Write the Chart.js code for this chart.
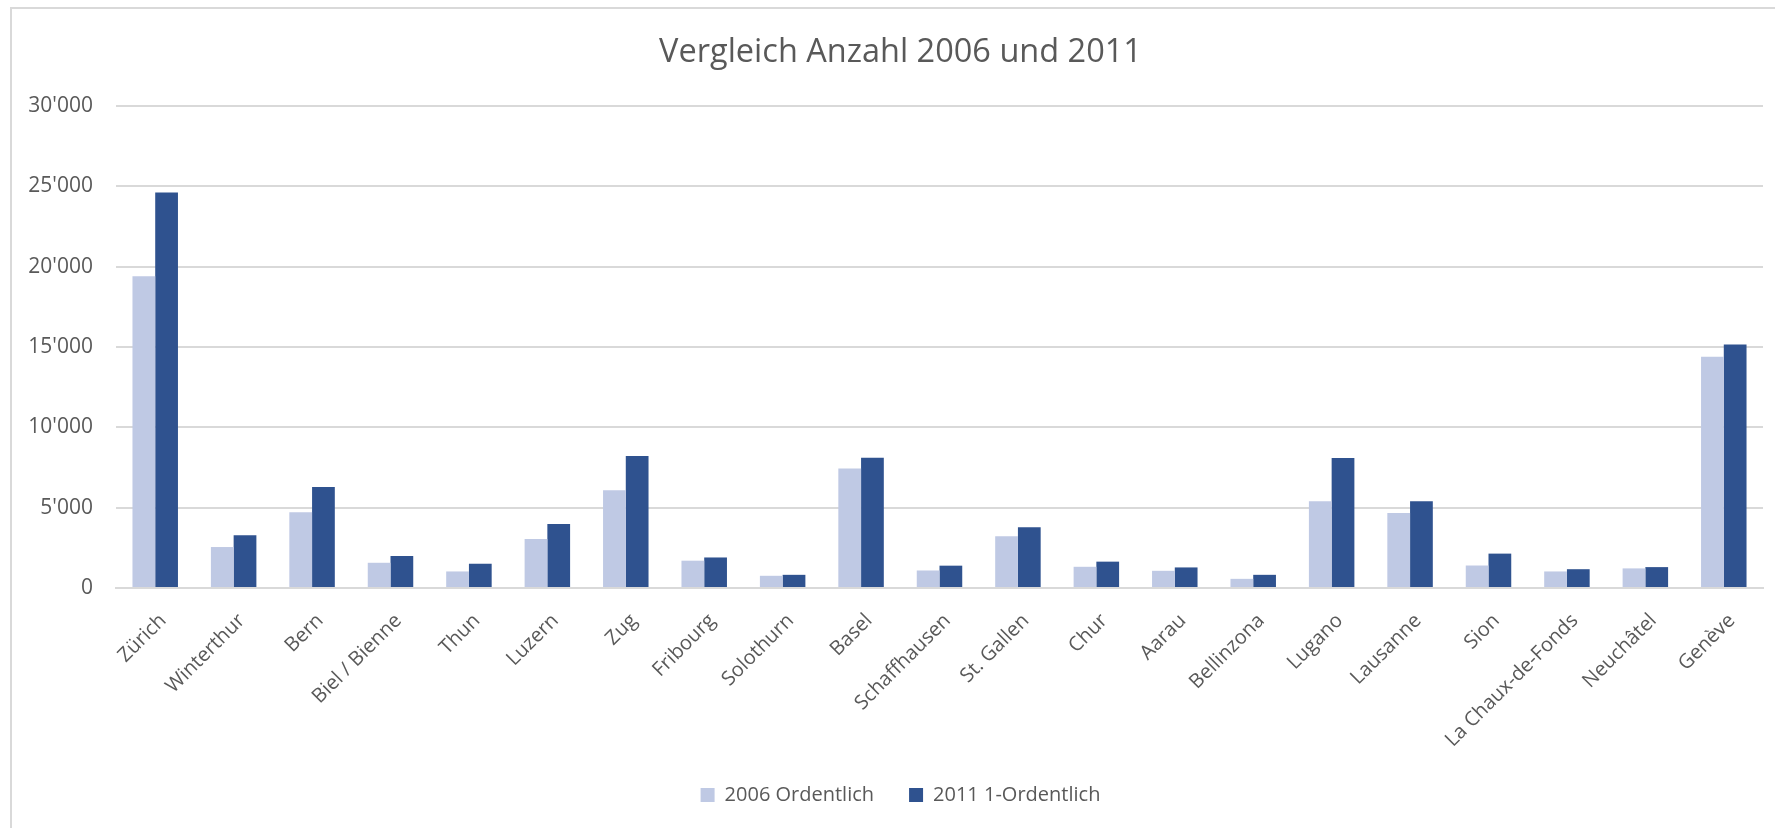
<!DOCTYPE html>
<html>
<head>
<meta charset="utf-8">
<script src="https://cdn.jsdelivr.net/npm/chart.js@4/dist/chart.umd.min.js"></script>
<style>
  html, body { margin: 0; padding: 0; background: #ffffff; }
  #wrap { position: relative; width: 1775px; height: 828px; overflow: hidden; }
  #frame { position: absolute; left: 10px; top: 7px; width: 1800px; height: 900px;
           border-left: 2px solid #d9d9d9; border-top: 2px solid #d9d9d9; box-sizing: border-box; }
  canvas { position: absolute; left: 0; top: 0; }
</style>
</head>
<body>
<div id="wrap">
  <div id="frame"></div>
  <canvas id="chart" width="1775" height="828"></canvas>
</div>
<script>
// Städte (Kategorien der x-Achse)
const cities = [
  "Zürich", "Winterthur", "Bern", "Biel / Bienne", "Thun", "Luzern", "Zug",
  "Fribourg", "Solothurn", "Basel", "Schaffhausen", "St. Gallen", "Chur",
  "Aarau", "Bellinzona", "Lugano", "Lausanne", "Sion", "La Chaux-de-Fonds",
  "Neuchâtel", "Genève"
];

// Anzahl 2006 (ordentlich)
const values2006 = [
  19400, 2550, 4710, 1570, 1030, 3050, 6090,
  1700, 760, 7440, 1090, 3220, 1320,
  1070, 570, 5400, 4670, 1400, 1030,
  1220, 14390
];

// Anzahl 2011 (1-ordentlich)
const values2011 = [
  24610, 3280, 6280, 1990, 1510, 3990, 8210,
  1900, 820, 8100, 1390, 3780, 1640,
  1280, 820, 8090, 5400, 2140, 1170,
  1300, 15160
];

// Beschriftungen der y-Achse
const yTickLabels = ["0", "5'000", "10'000", "15'000", "20'000", "25'000", "30'000"];

const seriesNames = ["2006 Ordentlich", "2011 1-Ordentlich"];
const chartTitle = "Vergleich Anzahl 2006 und 2011";

const FONT = "'Open Sans', 'DejaVu Sans', sans-serif";
const TEXT = "#595959";
const GRID = "#d9d9d9";

new Chart(document.getElementById("chart"), {
  type: "bar",
  data: {
    labels: cities,
    datasets: [
      { label: seriesNames[0], data: values2006, backgroundColor: "#BFC9E4",
        categoryPercentage: 0.58, barPercentage: 1.0, yAxisID: "y" },
      { label: seriesNames[1], data: values2011, backgroundColor: "#2F528F",
        categoryPercentage: 0.58, barPercentage: 1.0, yAxisID: "y" }
    ]
  },
  options: {
    responsive: false,
    animation: false,
    devicePixelRatio: 1,
    layout: { padding: { left: 26, right: 0, top: 0, bottom: 13 } },
    plugins: {
      title: {
        display: true,
        text: chartTitle,
        color: TEXT,
        font: { family: FONT, size: 32.5, weight: "normal", lineHeight: 1.2 },
        padding: { top: 33, bottom: 34 }
      },
      legend: {
        position: "bottom",
        labels: {
          color: TEXT,
          font: { family: FONT, size: 20 },
          boxWidth: 14,
          boxHeight: 14,
          padding: 35
        }
      },
      tooltip: { enabled: false }
    },
    scales: {
      x: {
        grid: { display: false, drawTicks: false },
        border: { display: true, color: GRID, width: 2 },
        ticks: {
          color: TEXT,
          font: { family: FONT, size: 20 },
          minRotation: 45,
          maxRotation: 45,
          autoSkip: false,
          padding: 21,
          labelOffset: 8
        },
        afterFit: (s) => { s.height = 162; }
      },
      y: {
        min: 0,
        max: 30000,
        grid: { color: GRID, lineWidth: 2, drawTicks: false },
        border: { display: false },
        ticks: {
          stepSize: 5000,
          color: TEXT,
          font: { family: FONT, size: 21 },
          padding: 23,
          callback: (v) => yTickLabels[Math.round(v / 5000)]
        },
        afterFit: (s) => { s.width = 90; }
      },
      // leerer Rand rechts neben der Zeichenfläche
      yRight: {
        position: "right",
        min: 0,
        max: 30000,
        grid: { display: false, drawTicks: false },
        border: { display: false },
        ticks: { display: false },
        afterFit: (s) => { s.width = 12; }
      }
    }
  }
});
</script>
</body>
</html>
